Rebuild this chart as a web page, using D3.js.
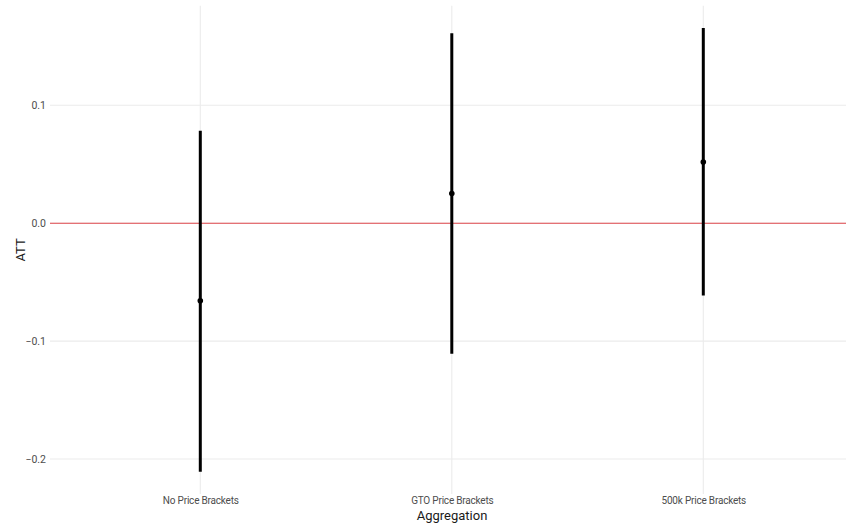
<!DOCTYPE html>
<html><head><meta charset="utf-8">
<script src="https://cdn.jsdelivr.net/npm/d3@7"></script>
<style>
html,body{margin:0;padding:0;background:#fff;}
text{font-family:Roboto,"Liberation Sans",sans-serif;}
</style></head>
<body>
<svg id="chart" width="846" height="524"></svg>
<script>
const categories = ["No Price Brackets", "GTO Price Brackets", "500k Price Brackets"];
const estimates = [-0.0658, 0.0251, 0.0519];
const lowerCI = [-0.2108, -0.1108, -0.0613];
const upperCI = [0.0784, 0.161, 0.1655];
const yTicks = [-0.2, -0.1, 0.0, 0.1];

const svg = d3.select("#chart");
const panel = {left: 50, right: 846, top: 5.8, bottom: 494};

const x = d3.scaleLinear().domain([0.4, categories.length + 0.6]).range([49.4, 854.2]);
const ymin = d3.min(lowerCI), ymax = d3.max(upperCI), pad = (ymax - ymin) * 0.05;
const y = d3.scaleLinear().domain([ymin - pad, ymax + pad]).range([panel.bottom, panel.top]);

const data = categories.map((c, i) => ({c, i: i + 1, est: estimates[i], lo: lowerCI[i], hi: upperCI[i]}));

const g = svg.append("g");
g.selectAll(".hg").data(yTicks).join("line")
  .attr("x1", panel.left).attr("x2", panel.right)
  .attr("y1", d => y(d)).attr("y2", d => y(d))
  .attr("stroke", "#ebebeb").attr("stroke-width", 1.1);
g.selectAll(".vg").data(data).join("line")
  .attr("x1", d => x(d.i)).attr("x2", d => x(d.i))
  .attr("y1", panel.top).attr("y2", panel.bottom)
  .attr("stroke", "#ebebeb").attr("stroke-width", 1.1);

g.append("line").attr("x1", panel.left).attr("x2", panel.right)
  .attr("y1", y(0)).attr("y2", y(0)).attr("stroke", "#e0474c").attr("stroke-width", 1.1);

const yAxis = d3.axisLeft(y).tickValues(yTicks).tickFormat(d3.format(".1f")).tickSize(0).tickPadding(4);
const ya = svg.append("g").attr("transform", `translate(${panel.left},0)`).call(yAxis);
ya.select(".domain").remove();
ya.selectAll("text").attr("font-size", 10.5).attr("fill", "#4d4d4d")
  .style("font-family", 'Roboto,sans-serif');

const xAxis = d3.axisBottom(x).tickValues(data.map(d => d.i)).tickFormat((d) => categories[d - 1]).tickSize(0).tickPadding(0);
const xa = svg.append("g").attr("transform", `translate(0,${panel.bottom})`).call(xAxis);
xa.select(".domain").remove();
xa.selectAll("text").attr("font-size", 10).attr("fill", "#4d4d4d").attr("y", 10).attr("dy", 0)
  .attr("letter-spacing", -0.2)
  .style("font-family", 'Roboto,sans-serif');

g.selectAll(".eb").data(data).join("line")
  .attr("x1", d => x(d.i)).attr("x2", d => x(d.i))
  .attr("y1", d => y(d.lo)).attr("y2", d => y(d.hi))
  .attr("stroke", "#000").attr("stroke-width", 3);
g.selectAll(".pt").data(data).join("circle")
  .attr("cx", d => x(d.i)).attr("cy", d => y(d.est)).attr("r", 2.8).attr("fill", "#000");

svg.append("text").attr("x", (panel.left + panel.right) / 2 + 4).attr("y", 519.5)
  .attr("text-anchor", "middle").attr("font-size", 13).attr("fill", "#1a1a1a").text("Aggregation");
svg.append("text").attr("transform", `translate(25,${(panel.top + panel.bottom) / 2}) rotate(-90)`)
  .attr("text-anchor", "middle").attr("font-size", 13).attr("fill", "#1a1a1a").text("ATT");
</script>
</body></html>
